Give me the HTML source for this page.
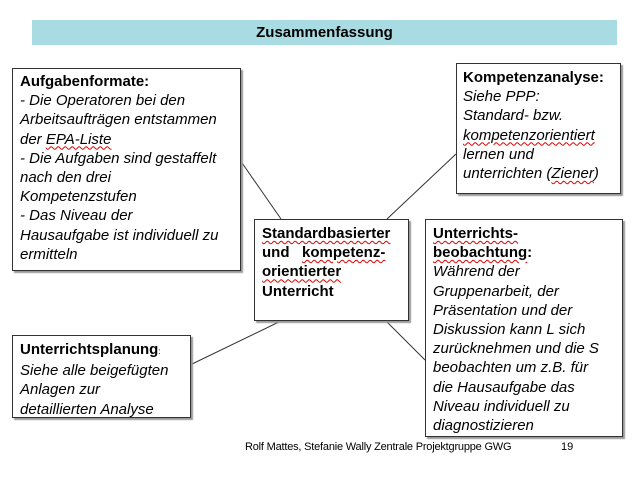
<!DOCTYPE html>
<html><head><meta charset="utf-8"><style>
body{margin:0;width:640px;height:480px;background:#fff;position:relative;font-family:"Liberation Sans",sans-serif;overflow:hidden}
.b{position:absolute;border:1.5px solid #333;background:#fff;box-shadow:2px 2px 1px #999;box-sizing:border-box;font-size:15px;line-height:19.2px;color:#000;white-space:nowrap}
i{font-style:italic}
.w{text-decoration:underline wavy #d00;text-decoration-thickness:1px;text-underline-offset:2px}
svg{position:absolute;left:0;top:0}
</style></head><body>
<div style="position:absolute;left:32px;top:20px;width:585px;height:25px;background:#a9dbe3;text-align:center;font-weight:bold;font-size:15px;line-height:26px">Zusammenfassung</div>
<svg width="640" height="480"><g stroke="#333" stroke-width="1">
<line x1="240" y1="160" x2="281" y2="219"/>
<line x1="456" y1="154" x2="387" y2="219"/>
<line x1="385" y1="320" x2="425" y2="360"/>
<line x1="190" y1="365" x2="283" y2="320"/>
</g></svg>
<div class="b" style="left:12px;top:68px;width:229px;height:203px;padding:3px 0 0 7px"><b>Aufgabenformate:</b><br><i>- Die Operatoren bei den<br>Arbeitsaufträgen entstammen<br>der <span class="w">EPA-Liste</span><br>- Die Aufgaben sind gestaffelt<br>nach den drei<br>Kompetenzstufen<br>- Das Niveau der<br>Hausaufgabe ist individuell zu<br>ermitteln</i></div>
<div class="b" style="left:456px;top:63px;width:165px;height:131px;padding:4px 0 0 6px"><b>Kompetenzanalyse:</b><br><i>Siehe PPP:<br>Standard- bzw.<br><span class="w">kompetenzorientiert</span><br>lernen und<br>unterrichten (<span class="w">Ziener</span>)</i></div>
<div class="b" style="left:254px;top:219px;width:155px;height:102px;padding:4px 6px 0 7px;font-weight:bold"><span class="w">Standardbasierter</span><br>und&nbsp;&nbsp; <span class="w">kompetenz-</span><br><span class="w">orientierter</span><br>Unterricht</div>
<div class="b" style="left:425px;top:219px;width:198px;height:218px;padding:4px 0 0 7px"><b><span class="w">Unterrichts-</span><br><span class="w">beobachtung</span>:</b><br><i>Während der<br>Gruppenarbeit, der<br>Präsentation und der<br>Diskussion kann L sich<br>zurücknehmen und die S<br>beobachten um z.B. für<br>die Hausaufgabe das<br>Niveau individuell zu<br>diagnostizieren</i></div>
<div class="b" style="left:12px;top:335px;width:179px;height:83px;padding:4px 0 0 7px"><b>Unterrichtsplanung</b><span style="font-size:8px">:</span><br><i>Siehe alle beigefügten<br>Anlagen zur<br>detaillierten Analyse</i></div>
<div style="position:absolute;left:245px;top:441px;font-size:11px;letter-spacing:-0.2px">Rolf Mattes, Stefanie Wally Zentrale Projektgruppe GWG</div>
<div style="position:absolute;left:561px;top:441px;font-size:11px">19</div>
</body></html>
